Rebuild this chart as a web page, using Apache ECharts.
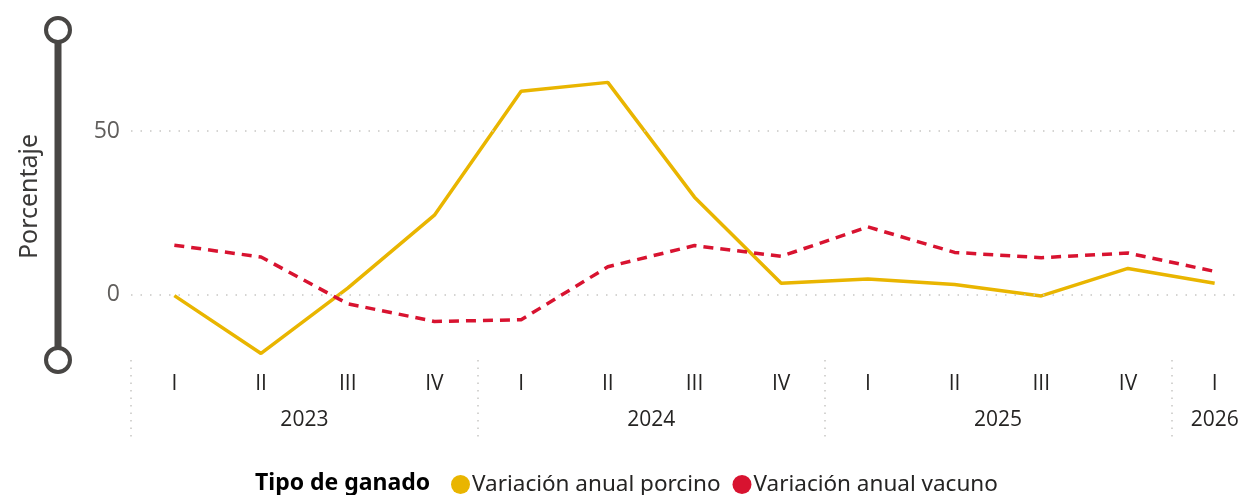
<!DOCTYPE html>
<html>
<head>
<meta charset="utf-8">
<script src="https://cdn.jsdelivr.net/npm/echarts@6/dist/echarts.min.js"></script>
<style>
  html, body { margin: 0; padding: 0; background: #fff; }
  #main { width: 1242px; height: 495px; }
</style>
</head>
<body>
<div id="main"></div>
<script>
// datos
const years = ['2023', '2024', '2025', '2026'];
const quartersPerYear = [4, 4, 4, 1];
const quarterNames = ['I', 'II', 'III', 'IV'];
const porcino = [-0.3, -18, 2, 24.3, 62.2, 64.9, 29.8, 3.5, 4.8, 3.1, -0.4, 8.0, 3.5];
const vacuno = [15.1, 11.5, -2.8, -8.2, -7.7, 8.5, 15, 11.7, 20.7, 12.9, 11.3, 12.7, 7.1];
const yTicks = [0, 50];

// etiquetas de trimestre y posiciones de año
let quarterLabels = [];
let yearStarts = [];
let yearCenters = [];
let acc = 0;
quartersPerYear.forEach((n, i) => {
  for (let q = 0; q < n; q++) quarterLabels.push(quarterNames[q]);
  yearStarts.push(acc);
  yearCenters.push(acc + n / 2);
  acc += n;
});

const font = "'Open Sans', 'Noto Sans', sans-serif";
let myChart = echarts.init(document.getElementById('main'));

let option = {
  animation: false,
  title: {
    text: 'Tipo de ganado',
    left: 250,
    top: 467,
    textStyle: { fontFamily: "'Noto Sans', sans-serif", fontSize: 23, fontWeight: 'bold', color: '#000' }
  },
  legend: {
    left: 446,
    top: 468,
    icon: 'circle',
    itemWidth: 19,
    itemHeight: 19,
    itemGap: 12,
    data: ['Variación anual porcino', 'Variación anual vacuno'],
    textStyle: { fontFamily: "'Noto Sans', sans-serif", fontSize: 22.5, color: '#252423', padding: [0, 0, 0, -3] }
  },
  grid: { left: 131, width: 1127, top: 33, bottom: 135, outerBoundsMode: 'none', containLabel: false },
  xAxis: [
    {
      type: 'category',
      data: quarterLabels,
      boundaryGap: true,
      axisLine: { show: false },
      axisTick: { show: false },
      axisLabel: { margin: 14, fontFamily: font, fontSize: 21, color: '#252423' }
    },
    {
      type: 'value',
      min: 0,
      max: acc,
      position: 'bottom',
      axisLine: { show: false },
      splitLine: { show: false },
      axisTick: {
        show: true,
        customValues: yearStarts,
        length: 78,
        lineStyle: { color: '#C8C6C4', type: [1.5, 6], width: 1.5 }
      },
      axisLabel: {
        customValues: yearCenters,
        margin: 50,
        fontFamily: font,
        fontSize: 21,
        color: '#252423',
        formatter: v => years[yearCenters.indexOf(v)]
      }
    }
  ],
  yAxis: {
    type: 'value',
    min: -20,
    max: 80,
    name: 'Porcentaje',
    nameLocation: 'middle',
    nameRotate: 90,
    nameGap: 89,
    nameTextStyle: { fontFamily: "'Noto Sans', sans-serif", fontSize: 25, color: '#3B3A39' },
    axisLine: { show: false },
    axisTick: { show: false },
    splitLine: { show: false },
    axisLabel: {
      customValues: yTicks,
      margin: 11,
      fontFamily: font,
      fontSize: 23,
      color: '#605E5C'
    }
  },
  graphic: [
    { type: 'line', shape: { x1: 58, y1: 30, x2: 58, y2: 360 }, style: { stroke: '#484644', lineWidth: 7 } },
    { type: 'circle', shape: { cx: 58, cy: 30, r: 12 }, style: { fill: '#fff', stroke: '#484644', lineWidth: 4 } },
    { type: 'circle', shape: { cx: 58, cy: 360, r: 12 }, style: { fill: '#fff', stroke: '#484644', lineWidth: 4 } }
  ],
  series: [
    {
      name: 'grid',
      type: 'line',
      data: [],
      silent: true,
      markLine: {
        silent: true,
        symbol: 'none',
        label: { show: false },
        lineStyle: { color: '#C8C6C4', type: [1.5, 8], width: 1.5 },
        data: yTicks.map(v => ({ yAxis: v }))
      }
    },
    {
      name: 'Variación anual porcino',
      type: 'line',
      data: porcino,
      symbol: 'none',
      color: '#E9B500',
      lineStyle: { width: 3.5, color: '#E9B500' }
    },
    {
      name: 'Variación anual vacuno',
      type: 'line',
      data: vacuno,
      symbol: 'none',
      color: '#D81330',
      lineStyle: { width: 3.5, color: '#D81330', type: [10, 7] }
    }
  ]
};
myChart.setOption(option);
</script>
</body>
</html>
